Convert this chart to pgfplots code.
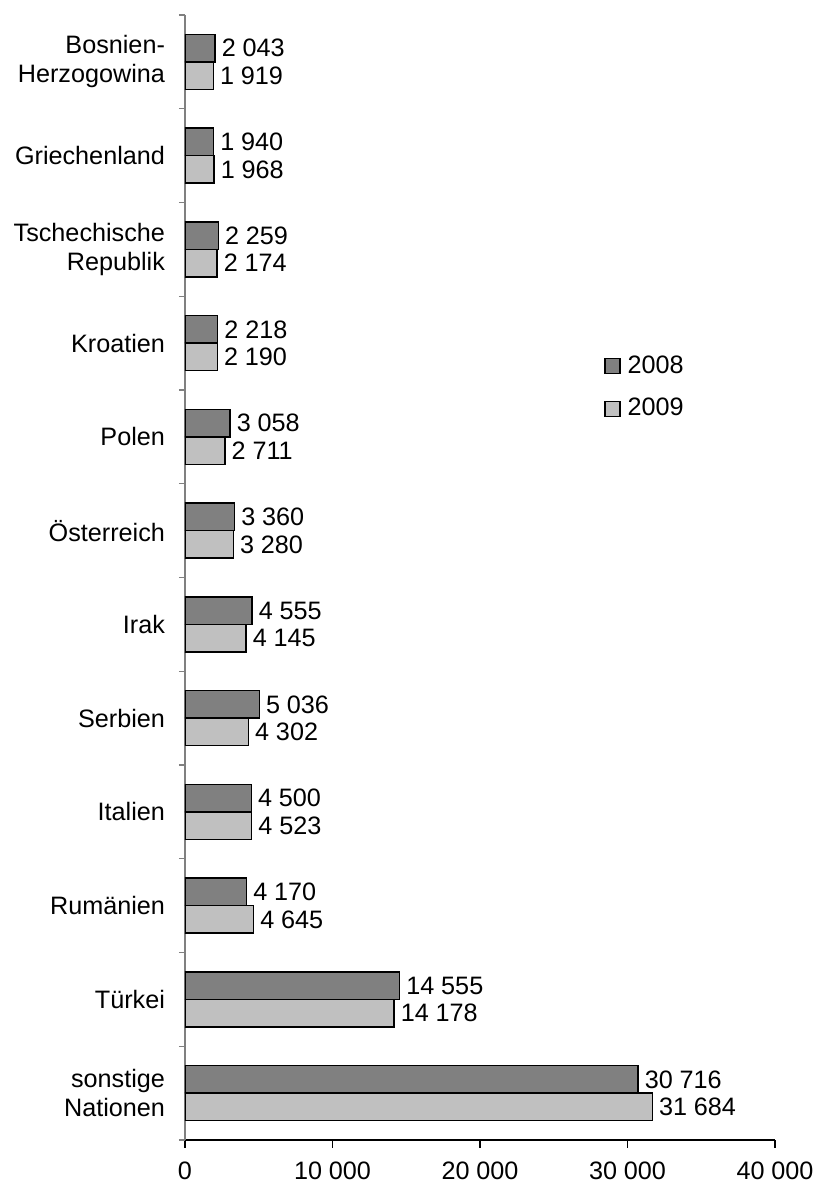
\documentclass[border=0pt]{standalone}
\usepackage{fontspec}
\setmainfont{Liberation Sans}
\usepackage{pgfplots}
\pgfplotsset{compat=1.18}

\definecolor{dunkel}{HTML}{808080}
\definecolor{hell}{HTML}{C0C0C0}

\newcommand{\tsep}{\hspace{0.27em}}

\begin{document}
\begin{tikzpicture}[font=\fontsize{12.6}{14.6}\selectfont]
\path[use as bounding box] (-92.5pt,-23.5pt) rectangle (315.5pt,570pt);
\begin{axis}[
    at={(0,0)}, anchor=south west,
    scale only axis,
    width=295pt, height=562.5pt,
    xbar, bar width=13.75pt,
    xmin=0, xmax=40000,
    ymin=-0.5, ymax=11.5,
    axis x line=bottom, axis y line=left,
    x axis line style={-, black, line width=0.6pt},
    y axis line style={-, gray, line width=0.6pt},
    xtick={0,10000,20000,30000,40000},
    scaled x ticks=false,
    xticklabel style={yshift=-3.5pt,
        /pgf/number format/1000 sep={\tsep},
        /pgf/number format/assume math mode=true},
    x tick style={black, line width=0.6pt},
    major tick length=4pt,
    tick align=outside,
    ytick={0,...,11},
    yticklabels={{sonstige\\Nationen}, T\"urkei, Rum\"anien, Italien, Serbien, Irak,
                 \"Osterreich, Polen, Kroatien, {Tschechische\\Republik}, Griechenland,
                 {Bosnien-\\Herzogowina}},
    yticklabel style={align=right, xshift=-2.5pt},
    y tick style={draw=none},
    minor ytick={-0.5,0.5,...,11.5},
    minor y tick style={draw=gray, line width=0.6pt},
    minor tick length=3pt,
    point meta=x,
    nodes near coords={\pgfmathprintnumber[1000 sep={\tsep}, assume math mode=true]{\pgfplotspointmeta}},
    every node near coord/.append style={anchor=west, inner sep=3pt, black},
    legend style={at={(0.71,0.669)}, anchor=west, draw=none, fill=none,
                  row sep=9pt, inner sep=0pt, legend cell align=left,
                  nodes={inner ysep=1pt, inner xsep=3.5pt}},
    legend image code/.code={\draw[#1, line width=0.6pt] (0pt,-3.75pt) rectangle (7.5pt,3.75pt);},
]
\addplot[fill=dunkel, draw=black, line width=0.75pt, bar shift=6.875pt] coordinates {
    (30716,0) (14555,1) (4170,2) (4500,3) (5036,4) (4555,5)
    (3360,6) (3058,7) (2218,8) (2259,9) (1940,10) (2043,11)};
\addplot[fill=hell, draw=black, line width=0.75pt, bar shift=-6.875pt] coordinates {
    (31684,0) (14178,1) (4645,2) (4523,3) (4302,4) (4145,5)
    (3280,6) (2711,7) (2190,8) (2174,9) (1968,10) (1919,11)};
\legend{2008, 2009}
\end{axis}
\end{tikzpicture}
\end{document}
